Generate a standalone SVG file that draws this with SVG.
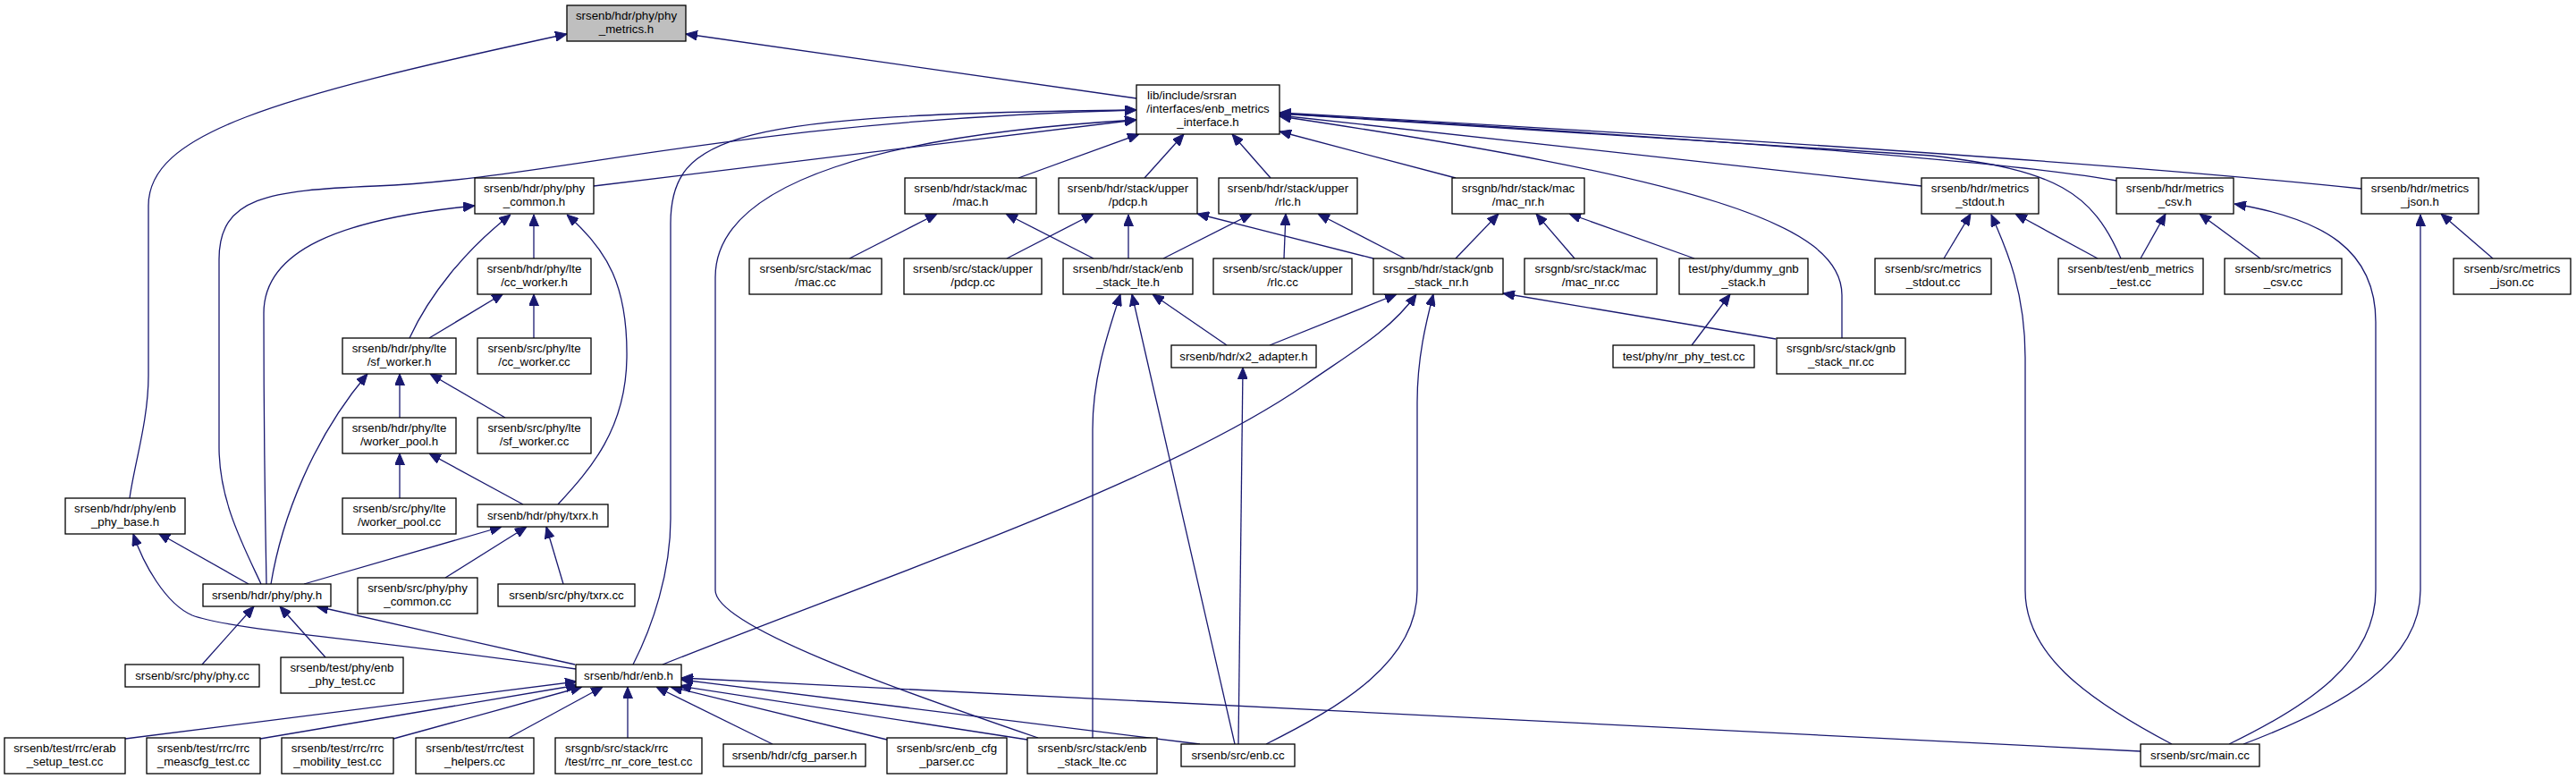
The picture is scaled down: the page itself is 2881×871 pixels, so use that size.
<svg xmlns="http://www.w3.org/2000/svg" width="2881" height="871" viewBox="0 0 2881 871">
<style>
.b{fill:#ffffff;stroke:#000000;stroke-width:1.3}
.r{fill:#bfbfbf;stroke:#000000;stroke-width:1.3}
text{font-family:"Liberation Sans",Arial,sans-serif;font-size:13.3px;fill:#000000;text-anchor:middle}
text.l{text-anchor:start}
#edges path{fill:none;stroke:#191970;stroke-width:1.3;marker-end:url(#ah)}
</style>
<defs>
<marker id="ah" viewBox="0 0 13 11" refX="13" refY="5.5" markerWidth="13" markerHeight="11" markerUnits="userSpaceOnUse" orient="auto">
<path d="M0,0 L13,5.5 L0,11 z" fill="#191970" stroke="#191970" stroke-width="1"/>
</marker>
</defs>
<rect width="2881" height="871" fill="#ffffff"/>
<g id="edges">
<path d="M1271,110 L767,38"/>
<path d="M145,557 C150,520 166,470 166,420 L166,230 C166,150 300,110 634,38"/>
<path d="M664,208 L1271,134"/>
<path d="M292,653 C272,610 245,560 245,500 L245,290 C245,220 300,213 420,208 C620,200 820,135 1271,123"/>
<path d="M708,743 C730,700 750,640 750,580 L750,250 C750,150 820,128 1271,123"/>
<path d="M1161,825 C1000,770 800,700 800,660 L800,310 C800,200 1000,150 1271,134"/>
<path d="M1139,199 L1274,150"/>
<path d="M1280,199 L1324,150"/>
<path d="M1421,199 L1378,150"/>
<path d="M1628,199 L1431,147"/>
<path d="M2060,378 L2060,330 C2060,250 1900,200 1431,130"/>
<path d="M2149,208 L1431,129"/>
<path d="M2372,289 C2340,215 2300,190 2160,174 L1431,127"/>
<path d="M2367,202 Q2200,172 1431,127"/>
<path d="M2641,211 Q2300,175 1431,126"/>
<path d="M298,653 C296,550 295,450 295,350 C295,280 380,245 531,230"/>
<path d="M458,378 C480,330 520,280 571,240"/>
<path d="M597,289 L597,240"/>
<path d="M624,564 C660,525 700,480 701,400 C702,320 680,280 634,240"/>
<path d="M480,378 L563,328"/>
<path d="M597,378 L597,329"/>
<path d="M303,653 C315,580 350,490 411,418"/>
<path d="M447,467 L447,418"/>
<path d="M565,467 L481,418"/>
<path d="M447,557 L447,507"/>
<path d="M585,564 L480,507"/>
<path d="M340,653 L561,589"/>
<path d="M498,646 L589,589"/>
<path d="M630,653 L611,589"/>
<path d="M278,653 L177,596"/>
<path d="M644,748 C420,715 260,705 215,688 C185,675 160,630 149,597"/>
<path d="M226,743 L284,678"/>
<path d="M364,735 L313,678"/>
<path d="M643,743 L354,678"/>
<path d="M140,826 L645,762"/>
<path d="M291,826 L646,766"/>
<path d="M440,826 L651,768"/>
<path d="M569,825 L674,768"/>
<path d="M702,825 L702,768"/>
<path d="M864,832 L734,768"/>
<path d="M992,827 L750,768"/>
<path d="M1149,827 L760,767"/>
<path d="M1342,832 L762,760"/>
<path d="M2394,840 L762,758"/>
<path d="M741,743 C1000,640 1300,540 1460,430 C1510,395 1555,370 1584,329"/>
<path d="M1420,386 L1562,329"/>
<path d="M1372,386 L1289,329"/>
<path d="M1222,825 L1222,480 C1222,420 1240,370 1253,329"/>
<path d="M1381,832 L1266,329"/>
<path d="M1385,832 L1390,411"/>
<path d="M1416,832 C1500,790 1585,740 1585,660 L1585,450 C1585,400 1595,360 1603,329"/>
<path d="M1986,379 L1681,328"/>
<path d="M1223,289 L1125,239"/>
<path d="M950,289 L1048,239"/>
<path d="M1126,289 L1223,239"/>
<path d="M1262,289 L1262,240"/>
<path d="M1536,289 L1339,239"/>
<path d="M1301,289 L1400,239"/>
<path d="M1436,289 L1438,239"/>
<path d="M1571,289 L1474,239"/>
<path d="M1628,289 L1676,239"/>
<path d="M1761,289 L1718,239"/>
<path d="M1895,289 L1755,239"/>
<path d="M1892,386 L1935,329"/>
<path d="M2174,289 L2204,239"/>
<path d="M2346,289 L2254,239"/>
<path d="M2429,832 C2330,780 2265,730 2265,660 L2265,400 C2265,320 2240,270 2227,240"/>
<path d="M2394,289 L2422,239"/>
<path d="M2528,289 L2460,239"/>
<path d="M2493,832 C2580,790 2657,740 2657,660 L2657,360 C2657,280 2600,245 2499,228"/>
<path d="M2509,832 C2620,790 2707,740 2707,660 L2707,240"/>
<path d="M2788,289 L2730,239"/>
</g>
<g id="n0"><rect class="r" x="634" y="6" width="133" height="40"/><text x="700.5" y="22">srsenb/hdr/phy/phy</text><text x="700.5" y="37">_metrics.h</text></g>
<g id="n1"><rect class="b" x="1271" y="95" width="160" height="55"/><text class="l" x="1283" y="111">lib/include/srsran</text><text x="1351" y="126">/interfaces/enb_metrics</text><text x="1351" y="141">_interface.h</text></g>
<g id="n2"><rect class="b" x="531" y="199" width="133" height="40"/><text x="597.5" y="215">srsenb/hdr/phy/phy</text><text x="597.5" y="230">_common.h</text></g>
<g id="n3"><rect class="b" x="1012" y="199" width="147" height="40"/><text x="1085.5" y="215">srsenb/hdr/stack/mac</text><text x="1085.5" y="230">/mac.h</text></g>
<g id="n4"><rect class="b" x="1184" y="199" width="155" height="40"/><text x="1261.5" y="215">srsenb/hdr/stack/upper</text><text x="1261.5" y="230">/pdcp.h</text></g>
<g id="n5"><rect class="b" x="1363" y="199" width="155" height="40"/><text x="1440.5" y="215">srsenb/hdr/stack/upper</text><text x="1440.5" y="230">/rlc.h</text></g>
<g id="n6"><rect class="b" x="1624" y="199" width="148" height="40"/><text x="1698" y="215">srsgnb/hdr/stack/mac</text><text x="1698" y="230">/mac_nr.h</text></g>
<g id="n7"><rect class="b" x="2149" y="199" width="131" height="40"/><text x="2214.5" y="215">srsenb/hdr/metrics</text><text x="2214.5" y="230">_stdout.h</text></g>
<g id="n8"><rect class="b" x="2367" y="199" width="131" height="40"/><text x="2432.5" y="215">srsenb/hdr/metrics</text><text x="2432.5" y="230">_csv.h</text></g>
<g id="n9"><rect class="b" x="2641" y="199" width="131" height="40"/><text x="2706.5" y="215">srsenb/hdr/metrics</text><text x="2706.5" y="230">_json.h</text></g>
<g id="n10"><rect class="b" x="534" y="289" width="127" height="40"/><text x="597.5" y="305">srsenb/hdr/phy/lte</text><text x="597.5" y="320">/cc_worker.h</text></g>
<g id="n11"><rect class="b" x="838" y="289" width="148" height="40"/><text x="912" y="305">srsenb/src/stack/mac</text><text x="912" y="320">/mac.cc</text></g>
<g id="n12"><rect class="b" x="1011" y="289" width="154" height="40"/><text x="1088" y="305">srsenb/src/stack/upper</text><text x="1088" y="320">/pdcp.cc</text></g>
<g id="n13"><rect class="b" x="1189" y="289" width="145" height="40"/><text x="1261.5" y="305">srsenb/hdr/stack/enb</text><text x="1261.5" y="320">_stack_lte.h</text></g>
<g id="n14"><rect class="b" x="1357" y="289" width="155" height="40"/><text x="1434.5" y="305">srsenb/src/stack/upper</text><text x="1434.5" y="320">/rlc.cc</text></g>
<g id="n15"><rect class="b" x="1536" y="289" width="145" height="40"/><text x="1608.5" y="305">srsgnb/hdr/stack/gnb</text><text x="1608.5" y="320">_stack_nr.h</text></g>
<g id="n16"><rect class="b" x="1705" y="289" width="148" height="40"/><text x="1779" y="305">srsgnb/src/stack/mac</text><text x="1779" y="320">/mac_nr.cc</text></g>
<g id="n17"><rect class="b" x="1878" y="289" width="144" height="40"/><text x="1950" y="305">test/phy/dummy_gnb</text><text x="1950" y="320">_stack.h</text></g>
<g id="n18"><rect class="b" x="2097" y="289" width="130" height="40"/><text x="2162" y="305">srsenb/src/metrics</text><text x="2162" y="320">_stdout.cc</text></g>
<g id="n19"><rect class="b" x="2302" y="289" width="162" height="40"/><text x="2383" y="305">srsenb/test/enb_metrics</text><text x="2383" y="320">_test.cc</text></g>
<g id="n20"><rect class="b" x="2488" y="289" width="131" height="40"/><text x="2553.5" y="305">srsenb/src/metrics</text><text x="2553.5" y="320">_csv.cc</text></g>
<g id="n21"><rect class="b" x="2744" y="289" width="131" height="40"/><text x="2809.5" y="305">srsenb/src/metrics</text><text x="2809.5" y="320">_json.cc</text></g>
<g id="n22"><rect class="b" x="383" y="378" width="127" height="40"/><text x="446.5" y="394">srsenb/hdr/phy/lte</text><text x="446.5" y="409">/sf_worker.h</text></g>
<g id="n23"><rect class="b" x="534" y="378" width="127" height="40"/><text x="597.5" y="394">srsenb/src/phy/lte</text><text x="597.5" y="409">/cc_worker.cc</text></g>
<g id="n24"><rect class="b" x="1310" y="386" width="162" height="25"/><text x="1391" y="402.5">srsenb/hdr/x2_adapter.h</text></g>
<g id="n25"><rect class="b" x="1804" y="386" width="158" height="25"/><text x="1883" y="402.5">test/phy/nr_phy_test.cc</text></g>
<g id="n26"><rect class="b" x="1987" y="378" width="144" height="40"/><text x="2059" y="394">srsgnb/src/stack/gnb</text><text x="2059" y="409">_stack_nr.cc</text></g>
<g id="n27"><rect class="b" x="383" y="467" width="127" height="40"/><text x="446.5" y="483">srsenb/hdr/phy/lte</text><text x="446.5" y="498">/worker_pool.h</text></g>
<g id="n28"><rect class="b" x="534" y="467" width="127" height="40"/><text x="597.5" y="483">srsenb/src/phy/lte</text><text x="597.5" y="498">/sf_worker.cc</text></g>
<g id="n29"><rect class="b" x="73" y="557" width="134" height="40"/><text x="140" y="573">srsenb/hdr/phy/enb</text><text x="140" y="588">_phy_base.h</text></g>
<g id="n30"><rect class="b" x="383" y="557" width="127" height="40"/><text x="446.5" y="573">srsenb/src/phy/lte</text><text x="446.5" y="588">/worker_pool.cc</text></g>
<g id="n31"><rect class="b" x="534" y="564" width="146" height="25"/><text x="607" y="580.5">srsenb/hdr/phy/txrx.h</text></g>
<g id="n32"><rect class="b" x="227" y="653" width="143" height="25"/><text x="298.5" y="669.5">srsenb/hdr/phy/phy.h</text></g>
<g id="n33"><rect class="b" x="400" y="646" width="134" height="40"/><text x="467" y="662">srsenb/src/phy/phy</text><text x="467" y="677">_common.cc</text></g>
<g id="n34"><rect class="b" x="557" y="653" width="153" height="25"/><text x="633.5" y="669.5">srsenb/src/phy/txrx.cc</text></g>
<g id="n35"><rect class="b" x="140" y="743" width="150" height="25"/><text x="215" y="759.5">srsenb/src/phy/phy.cc</text></g>
<g id="n36"><rect class="b" x="314" y="735" width="137" height="40"/><text x="382.5" y="751">srsenb/test/phy/enb</text><text x="382.5" y="766">_phy_test.cc</text></g>
<g id="n37"><rect class="b" x="644" y="743" width="118" height="25"/><text x="703" y="759.5">srsenb/hdr/enb.h</text></g>
<g id="n38"><rect class="b" x="5" y="825" width="135" height="40"/><text x="72.5" y="841">srsenb/test/rrc/erab</text><text x="72.5" y="856">_setup_test.cc</text></g>
<g id="n39"><rect class="b" x="164" y="825" width="127" height="40"/><text x="227.5" y="841">srsenb/test/rrc/rrc</text><text x="227.5" y="856">_meascfg_test.cc</text></g>
<g id="n40"><rect class="b" x="315" y="825" width="125" height="40"/><text x="377.5" y="841">srsenb/test/rrc/rrc</text><text x="377.5" y="856">_mobility_test.cc</text></g>
<g id="n41"><rect class="b" x="465" y="825" width="132" height="40"/><text x="531" y="841">srsenb/test/rrc/test</text><text x="531" y="856">_helpers.cc</text></g>
<g id="n42"><rect class="b" x="621" y="825" width="164" height="40"/><text class="l" x="632" y="841">srsgnb/src/stack/rrc</text><text x="703" y="856">/test/rrc_nr_core_test.cc</text></g>
<g id="n43"><rect class="b" x="809" y="832" width="159" height="25"/><text x="888.5" y="848.5">srsenb/hdr/cfg_parser.h</text></g>
<g id="n44"><rect class="b" x="992" y="825" width="134" height="40"/><text x="1059" y="841">srsenb/src/enb_cfg</text><text x="1059" y="856">_parser.cc</text></g>
<g id="n45"><rect class="b" x="1149" y="825" width="145" height="40"/><text x="1221.5" y="841">srsenb/src/stack/enb</text><text x="1221.5" y="856">_stack_lte.cc</text></g>
<g id="n46"><rect class="b" x="1321" y="832" width="127" height="25"/><text x="1384.5" y="848.5">srsenb/src/enb.cc</text></g>
<g id="n47"><rect class="b" x="2394" y="832" width="133" height="25"/><text x="2460.5" y="848.5">srsenb/src/main.cc</text></g>
</svg>
